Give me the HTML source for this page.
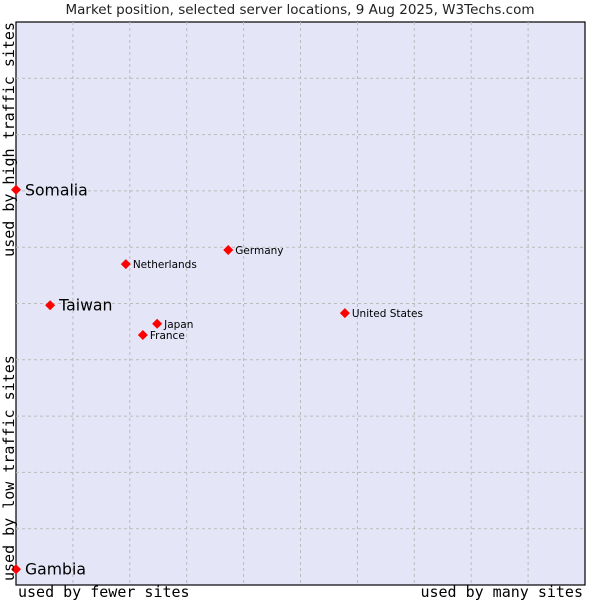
<!DOCTYPE html>
<html><head><meta charset="utf-8"><style>
body{margin:0;background:#fff;}
svg{display:block;font-family:"DejaVu Sans","Liberation Sans",sans-serif;}
</style></head><body>
<svg id="chart" width="600" height="600">
<text x="300" y="14" text-anchor="middle" font-size="13.5" fill="#222">Market position, selected server locations, 9 Aug 2025, W3Techs.com</text>
<rect x="16" y="22" width="569" height="563" fill="#e4e6f8" stroke="#000" stroke-width="1.2"/>
<g id="grid"></g>
<g id="marks"></g>
<text x="14" y="581" transform="rotate(-90 14 581)" font-family="'DejaVu Sans Mono',monospace" font-size="15" fill="#000">used by low traffic sites</text>
<text x="14" y="22" transform="rotate(-90 14 22)" text-anchor="end" font-family="'DejaVu Sans Mono',monospace" font-size="15" fill="#000">used by high traffic sites</text>
<text x="18" y="597" font-family="'DejaVu Sans Mono',monospace" font-size="15" fill="#000">used by fewer sites</text>
<text x="583" y="597" text-anchor="end" font-family="'DejaVu Sans Mono',monospace" font-size="15" fill="#000">used by many sites</text>
</svg>
<script>
const countries=["Somalia","Taiwan","Gambia","Netherlands","Germany","Japan","France","United States"];
const xValues=[0,6.0,0,19.3,37.3,24.8,22.3,57.8];
const yValues=[70.2,49.7,2.8,57.0,59.5,46.4,44.4,48.3];
const bigLabel=[true,true,true,false,false,false,false,false];
const gridSteps=[1,2,3,4,5,6,7,8,9];
const NS="http://www.w3.org/2000/svg";
const X0=16,W=569,Y0=585,H=563;
const sx=v=>X0+v/100*W, sy=v=>Y0-v/100*H;
const grid=document.getElementById('grid'), marks=document.getElementById('marks');
gridSteps.forEach(s=>{
  const v=document.createElementNS(NS,'line');
  v.setAttribute('x1',sx(s*10));v.setAttribute('x2',sx(s*10));v.setAttribute('y1',22);v.setAttribute('y2',585);
  v.setAttribute('stroke','#bbb');v.setAttribute('stroke-dasharray','3,3');
  
  
  grid.appendChild(v);
  const h=document.createElementNS(NS,'line');
  h.setAttribute('y1',sy(s*10));h.setAttribute('y2',sy(s*10));h.setAttribute('x1',16);h.setAttribute('x2',585);
  h.setAttribute('stroke','#bbb');h.setAttribute('stroke-dasharray','3,3');
  
  
  grid.appendChild(h);
});
countries.forEach((c,i)=>{
  const x=sx(xValues[i]),y=sy(yValues[i]);
  const d=document.createElementNS(NS,'polygon');
  d.setAttribute('points',`${x},${y-5} ${x+5},${y} ${x},${y+5} ${x-5},${y}`);
  d.setAttribute('fill','#f00');
  
  
  marks.appendChild(d);
  const t=document.createElementNS(NS,'text');
  const big=bigLabel[i];
  t.setAttribute('x',x+(big?9:7));t.setAttribute('y',y+(big?5.5:4));
  t.setAttribute('font-size',big?15.7:10.5);t.setAttribute('fill','#000');
  t.textContent=c;
  
  
  marks.appendChild(t);
});
</script>
</body></html>
